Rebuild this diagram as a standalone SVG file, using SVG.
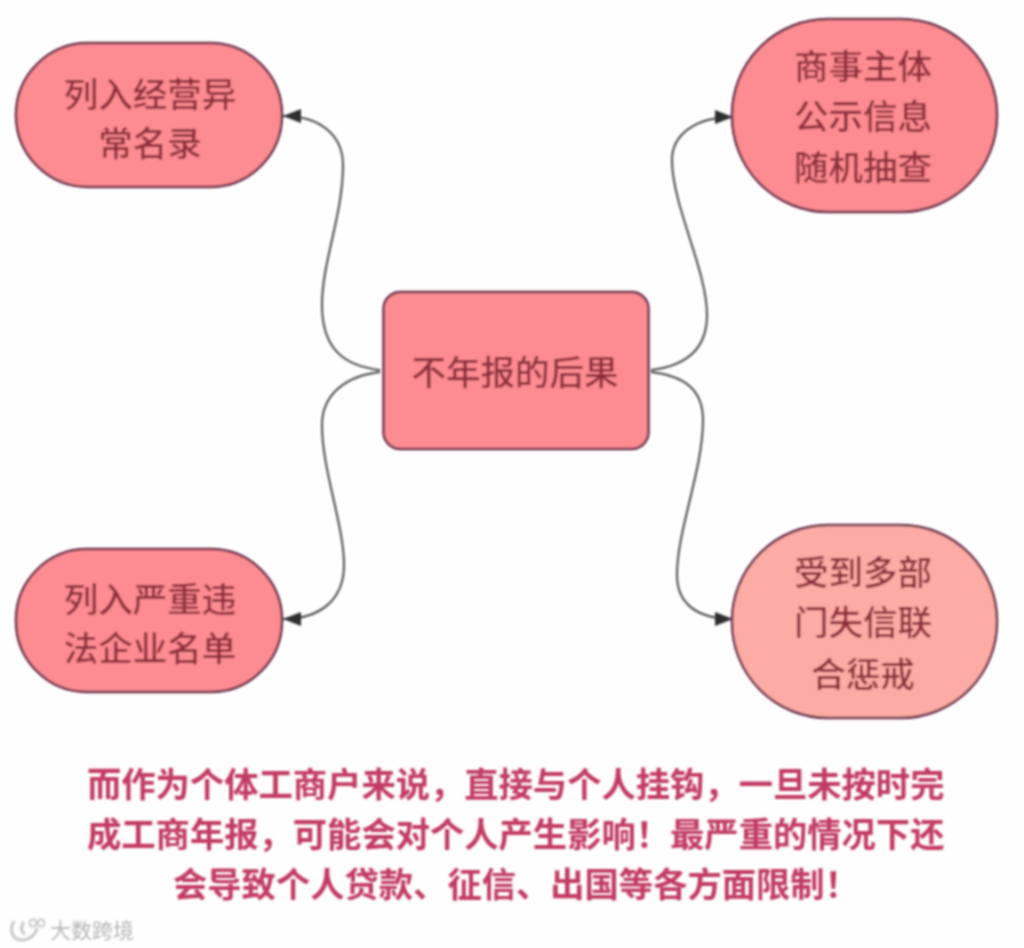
<svg xmlns="http://www.w3.org/2000/svg" width="1024" height="948" viewBox="0 0 1024 948">
<style>
.n{fill:#fd8c92;stroke:#6b2f4a;stroke-width:2.5}
.t{font-family:"Noto Sans CJK SC","Liberation Sans",sans-serif;font-size:34.5px;font-weight:500;fill:#8f2f3a;text-anchor:middle}
.c{fill:none;stroke:#4a4a4a;stroke-width:2}
.b{font-family:"Noto Sans CJK SC","Liberation Sans",sans-serif;font-size:34.3px;font-weight:700;fill:#c23a63}
</style>
<defs>
<marker id="a" markerUnits="userSpaceOnUse" markerWidth="20" markerHeight="18" refX="18" refY="9" orient="auto"><path d="M0 2L18 9L0 16Z" fill="#2e2e2e"/></marker>
<filter id="s" x="-5%" y="-5%" width="110%" height="110%"><feGaussianBlur stdDeviation="0.9"/></filter>
</defs>
<rect width="1024" height="948" fill="#fefefe"/>
<g filter="url(#s)">
<g id="connectors">
<path class="c" marker-end="url(#a)" d="M380 370C345 366 322 350 322 305C322 262 343 215 343 165C343 135 320 116 283 116"/>
<path class="c" marker-end="url(#a)" d="M651 370C685 366 707 350 707 315C707 270 672 205 672 160C672 135 695 117 733 117"/>
<path class="c" marker-end="url(#a)" d="M380 372C345 376 322 395 322 425C322 470 344 525 344 565C344 600 320 619 283 619"/>
<path class="c" marker-end="url(#a)" d="M651 372C685 376 703 390 703 420C703 470 677 530 677 575C677 602 695 619 733 619"/>
</g>
<g id="center"><rect class="n" x="383.500" y="292" width="265" height="157" rx="17"/><text class="t" x="515" y="385">不年报的后果</text></g>
<g id="top-left"><rect class="n" x="16" y="43" width="266" height="144" rx="72"/><text class="t" x="150" y="107">列入经营异</text><text class="t" x="150" y="156">常名录</text></g>
<g id="top-right"><rect class="n" x="732" y="19" width="265" height="193" rx="96"/><text class="t" x="863" y="79">商事主体</text><text class="t" x="863" y="129">公示信息</text><text class="t" x="863" y="180">随机抽查</text></g>
<g id="bottom-left"><rect class="n" x="16" y="549" width="266" height="143" rx="71"/><text class="t" x="150" y="612">列入严重违</text><text class="t" x="150" y="661">法企业名单</text></g>
<g id="bottom-right"><rect class="n" style="fill:#fdaca5" x="732" y="525" width="265" height="193" rx="96"/><text class="t" x="863" y="585">受到多部</text><text class="t" x="863" y="635">门失信联</text><text class="t" x="863" y="687">合惩戒</text></g>
<g id="note">
<text class="b" x="87" y="797">而作为个体工商户来说，直接与个人挂钩，一旦未按时完</text>
<text class="b" x="87" y="847">成工商年报，可能会对个人产生影响！最严重的情况下还</text>
<text class="b" x="173" y="897">会导致个人贷款、征信、出国等各方面限制！</text>
</g>
<g id="watermark">
<path d="M14 921C9 930 12 940 22 940C30 940 36 934 37 928M24 922C20 927 21 932 25 934" fill="none" stroke="#c9c9c9" stroke-width="3"/>
<circle cx="33" cy="923" r="3.500" fill="none" stroke="#c9c9c9" stroke-width="2"/><circle cx="41" cy="923" r="3.500" fill="none" stroke="#c9c9c9" stroke-width="2"/>
<text x="50" y="938" font-family="'Noto Sans CJK SC',sans-serif" font-size="21" fill="#b5b5b5">大数跨境</text>
</g>
</g>
</svg>
